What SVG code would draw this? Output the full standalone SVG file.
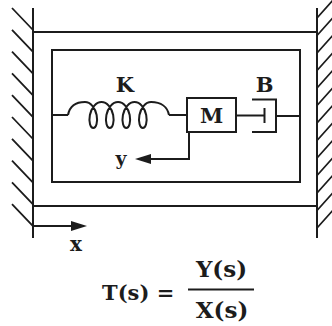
<svg xmlns="http://www.w3.org/2000/svg" width="332" height="326" viewBox="0 0 332 326">
<style>
.ln{fill:none;stroke:#1c1c1c;stroke-width:2;stroke-linecap:butt}
.hatch{fill:none;stroke:#1c1c1c;stroke-width:1.8}
.lbl{font-family:"DejaVu Serif","Liberation Serif",serif;font-weight:bold;fill:#1c1c1c;text-anchor:middle}
</style>
<defs>
<marker id="arrow" viewBox="0 0 16 10" refX="8" refY="5" markerWidth="16" markerHeight="10" markerUnits="userSpaceOnUse" orient="auto">
<path d="M0,0 L16,5 L0,10 Z" fill="#1c1c1c"/>
</marker>
</defs>
<rect width="332" height="326" fill="#fff"/>
<g id="left-wall">
<line class="ln" x1="33" y1="8" x2="33" y2="238"/>
<path class="hatch" d="M12,8 L33,30 M12,29.8 L33,51.8 M12,51.6 L33,73.6 M12,73.4 L33,95.4 M12,95.2 L33,117.2 M12,117 L33,139 M12,138.8 L33,160.8 M12,160.6 L33,182.6 M12,182.4 L33,204.4 M12,204.2 L33,226.2"/>
</g>
<g id="right-wall">
<line class="ln" x1="317" y1="8" x2="317" y2="238"/>
<path class="hatch" d="M317,18 L334,-1 M317,35.5 L334,16.5 M317,53 L334,34 M317,70.5 L334,51.5 M317,88 L334,69 M317,105.5 L334,86.5 M317,123 L334,104 M317,140.5 L334,121.5 M317,158 L334,139 M317,175.5 L334,156.5 M317,193 L334,174 M317,210.5 L334,191.5 M317,228 L334,209"/>
</g>
<g id="outer-frame">
<line class="ln" x1="33" y1="32" x2="317" y2="32"/>
<line class="ln" x1="33" y1="206" x2="317" y2="206"/>
</g>
<g id="inner-box">
<rect class="ln" x="52" y="50" width="248" height="132"/>
</g>
<g id="spring-K">
<path class="ln" d="M68,115 C69.5,107 75,102 85,102 c5.52,0 10.25,5.82 11.63,13 c1.38,7.18 -0.6,13 -3.37,13 c-2.76,0 -4.75,-5.82 -3.37,-13 c1.38,-7.18 6.11,-13 11.63,-13 c5.52,0 10.25,5.82 11.63,13 c1.38,7.18 -0.6,13 -3.37,13 c-2.76,0 -4.75,-5.82 -3.37,-13 c1.38,-7.18 6.11,-13 11.63,-13 c5.52,0 10.25,5.82 11.63,13 c1.38,7.18 -0.6,13 -3.37,13 c-2.76,0 -4.75,-5.82 -3.37,-13 c1.38,-7.18 6.11,-13 11.63,-13 c5.52,0 10.25,5.82 11.63,13 c1.38,7.18 -0.6,13 -3.37,13 c-2.76,0 -4.75,-5.82 -3.37,-13 c1.38,-7.18 6.11,-13 11.63,-13 C161,102 167.5,107 169,115"/>
<text class="lbl" x="125" y="92" font-size="21">K</text>
</g>
<g id="mass-M">
<rect class="ln" x="187" y="98" width="49" height="34"/>
<text class="lbl" x="211.5" y="123" font-size="21">M</text>
</g>
<g id="damper-B">
<path class="ln" d="M252,99.5 H276 V132 H252"/>
<line class="ln" x1="264.5" y1="108" x2="264.5" y2="123"/>
<text class="lbl" x="264.5" y="92" font-size="21">B</text>
</g>
<g id="connectors">
<line class="ln" x1="52" y1="115" x2="68" y2="115"/>
<line class="ln" x1="169" y1="115" x2="187" y2="115"/>
<line class="ln" x1="236" y1="115.5" x2="264.5" y2="115.5"/>
<line class="ln" x1="276" y1="116" x2="300" y2="116"/>
<path class="ln" d="M189,132 V159 H143" marker-end="url(#arrow)"/>
<line class="ln" x1="33" y1="226" x2="79" y2="226" marker-end="url(#arrow)"/>
</g>
<g id="labels">
<text class="lbl" x="121" y="165" font-size="19">y</text>
<text class="lbl" x="76" y="251" font-size="20">x</text>
</g>
<g id="formula">
<text class="lbl" x="102" y="300" font-size="21" style="text-anchor:start">T(s) =</text>
<text class="lbl" x="221.5" y="277" font-size="23">Y(s)</text>
<line class="ln" x1="188" y1="289.5" x2="254" y2="289.5"/>
<text class="lbl" x="222" y="318" font-size="23">X(s)</text>
</g>
</svg>
